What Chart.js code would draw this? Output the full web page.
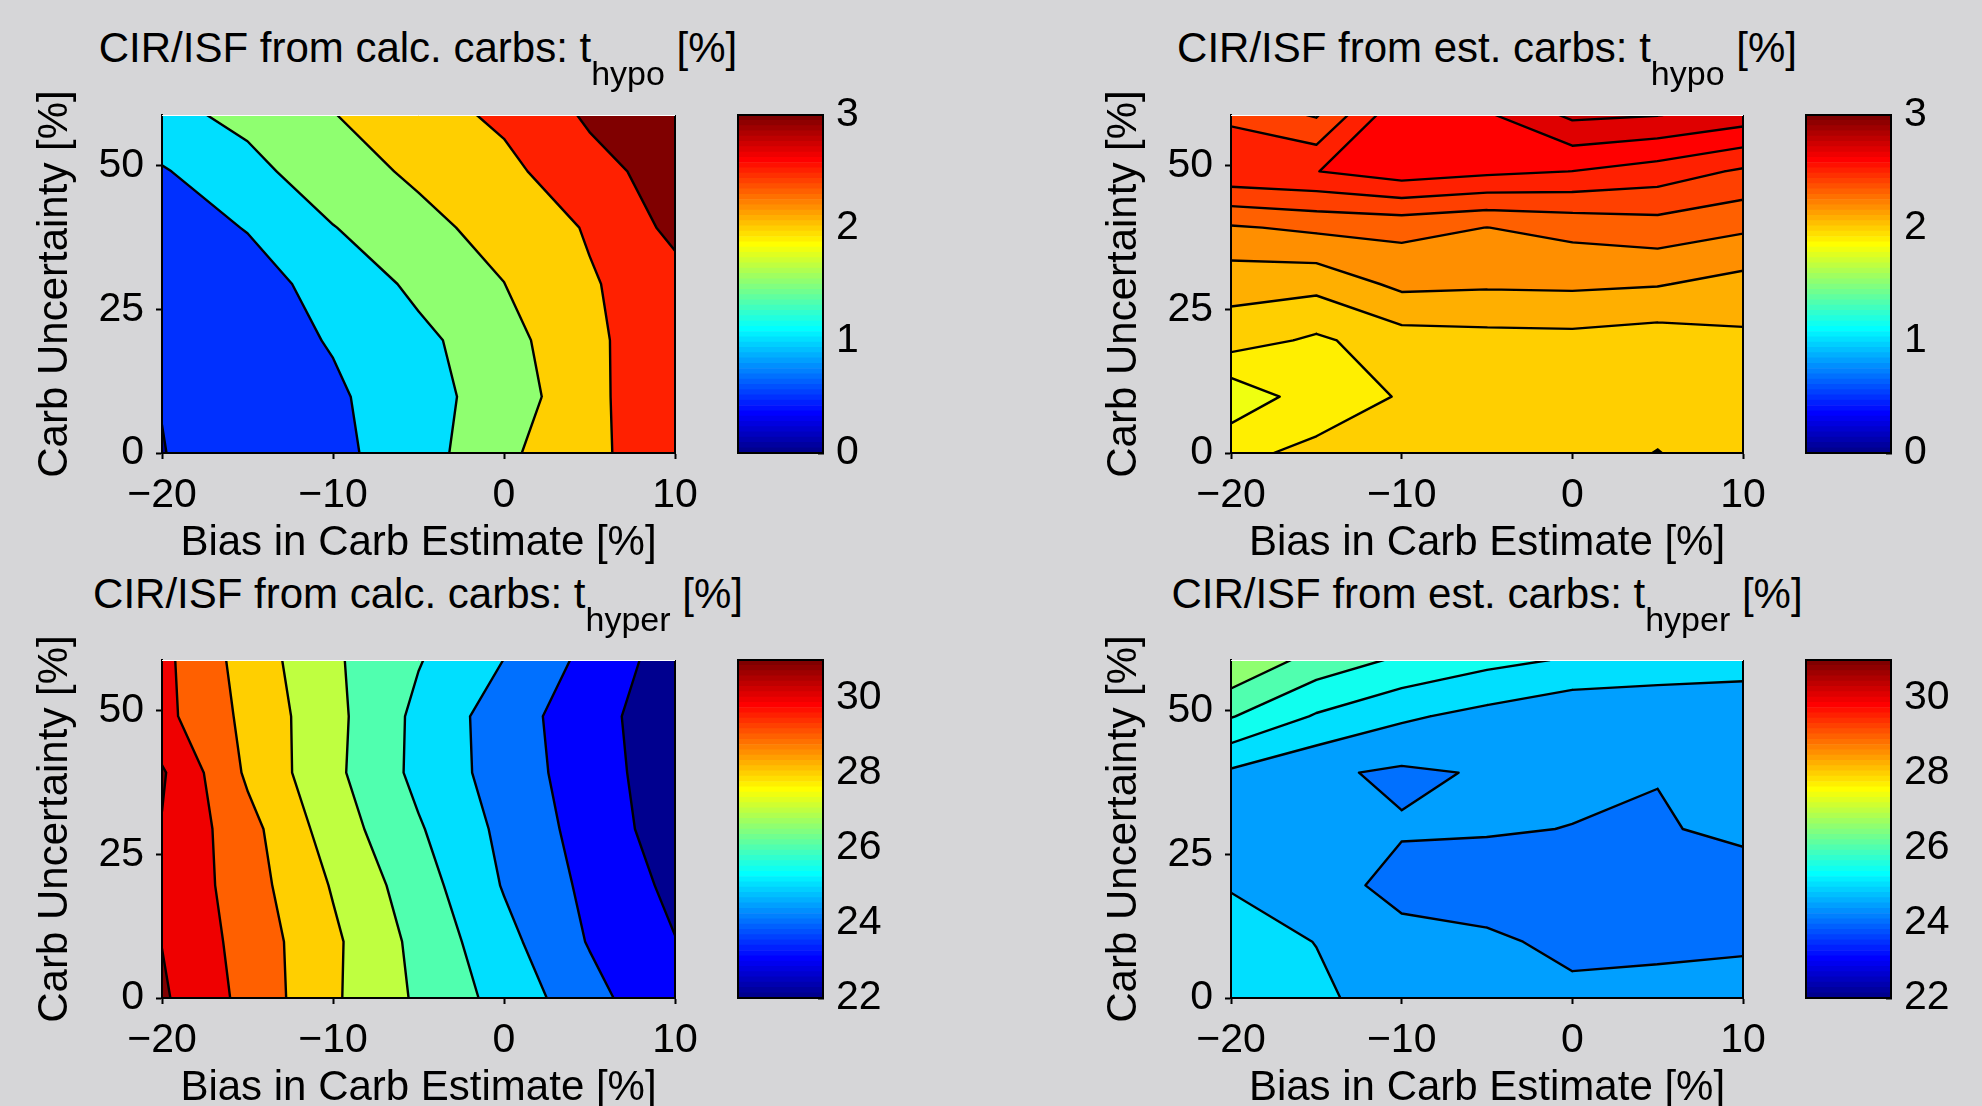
<!DOCTYPE html>
<html>
<head>
<meta charset="utf-8">
<title>CIR/ISF contour maps</title>
<script src="https://cdn.jsdelivr.net/npm/chart.js@4.4.1/dist/chart.umd.min.js"></script>
<style>
  html, body { margin: 0; padding: 0; background: #d6d6d8; overflow: hidden; }
  body { width: 1982px; height: 1106px; position: relative; font-family: "Liberation Sans", Arial, sans-serif; }
  canvas { position: absolute; }
  .title { position: absolute; width: 800px; text-align: center; font-size: 42px; line-height: 50px; color: #000; white-space: nowrap; }
  .title span { position: relative; top: 23px; font-size: 34px; }
</style>
</head>
<body>

<canvas id="hypoCalc" width="705" height="489" style="left:0; top:80px"></canvas>
<canvas id="hypoCalcBar" width="180" height="405" style="left:720px; top:80px"></canvas>
<canvas id="hypoEst" width="704" height="489" style="left:1069px; top:80px"></canvas>
<canvas id="hypoEstBar" width="180" height="405" style="left:1788px; top:80px"></canvas>
<canvas id="hyperCalc" width="705" height="489" style="left:0; top:625px"></canvas>
<canvas id="hyperCalcBar" width="180" height="405" style="left:720px; top:625px"></canvas>
<canvas id="hyperEst" width="704" height="489" style="left:1069px; top:625px"></canvas>
<canvas id="hyperEstBar" width="180" height="405" style="left:1788px; top:625px"></canvas>

<div class="title" style="left:18px; top:23px">CIR/ISF from calc. carbs: t<span>hypo</span> [%]</div>
<div class="title" style="left:1087px; top:23px">CIR/ISF from est. carbs: t<span>hypo</span> [%]</div>
<div class="title" style="left:18px; top:569px">CIR/ISF from calc. carbs: t<span>hyper</span> [%]</div>
<div class="title" style="left:1087px; top:569px">CIR/ISF from est. carbs: t<span>hyper</span> [%]</div>

<script>
// grid of the runs: bias in carb estimate (columns) x carb uncertainty (rows)
const biasX = [-20, -15, -10, -5, 0, 5, 10]
const uncertY = [0, 9.8, 19.6, 29.4, 39.2, 49, 58.8]

const xTicks = [-20, -10, 0, 10]
const yTicks = [0, 25, 50]

// t_hypo [%], rows from uncertainty 0 up to 58.8
const hypoCalc = [
  [0.49, 0.68, 0.877, 1.275, 1.90, 2.38, 2.83],
  [0.51, 0.71, 0.912, 1.336, 1.70, 2.379, 2.87],
  [0.58, 0.742, 1.04, 1.372, 1.82, 2.39, 2.85],
  [0.68, 0.856, 1.132, 1.62, 1.995, 2.45, 2.82],
  [0.83, 1.016, 1.48, 1.897, 2.131, 2.55, 3.125],
  [0.96, 1.324, 1.842, 2.063, 2.37, 2.841, 3.20],
  [1.33, 1.654, 1.985, 2.297, 2.595, 3.069, 3.45]
]
const hypoEst = [
  [1.981, 2.019, 2.02, 2.04, 2.03, 1.998, 2.04],
  [1.827, 1.955, 2.006, 2.05, 2.04, 2.03, 2.05],
  [2.046, 1.983, 2.054, 2.066, 2.07, 2.05, 2.08],
  [2.136, 2.13, 2.224, 2.214, 2.218, 2.207, 2.164],
  [2.289, 2.319, 2.328, 2.299, 2.329, 2.355, 2.316],
  [2.579, 2.598, 2.654, 2.622, 2.599, 2.555, 2.485],
  [2.48, 2.39, 2.686, 2.687, 2.821, 2.803, 2.755]
]
// t_hyper [%]
const hyperCalc = [
  [31.14, 29.71, 28.14, 26.85, 25.64, 24.36, 23.08],
  [30.98, 29.61, 28.18, 26.72, 25.30, 23.93, 23.03],
  [30.92, 29.44, 27.92, 26.45, 24.93, 23.77, 22.76],
  [30.95, 29.34, 27.52, 26.10, 24.76, 23.59, 22.48],
  [31.11, 28.84, 27.23, 25.74, 24.56, 23.48, 22.39],
  [30.29, 28.75, 27.28, 25.76, 24.50, 23.40, 22.34],
  [30.26, 28.58, 27.15, 26.06, 24.99, 23.71, 22.50]
]
const hyperEst = [
  [25.35, 25.09, 24.77, 24.62, 24.55, 24.65, 24.79],
  [25.20, 24.99, 24.64, 24.54, 24.445, 24.40, 24.40],
  [24.97, 24.69, 24.36, 24.38, 24.40, 24.35, 24.24],
  [24.80, 24.65, 24.54, 24.52, 24.495, 24.45, 24.62],
  [24.92, 24.58, 24.42, 24.54, 24.55, 24.52, 24.60],
  [26.03, 25.45, 25.08, 24.84, 24.60, 24.69, 24.67],
  [26.98, 26.30, 25.92, 25.64, 25.45, 25.25, 25.20]
]

// contour levels
const hypoCalcLevels = [0, 0.5, 1, 1.5, 2, 2.5, 3]
const hypoEstLevels = [1.8, 1.9, 2.0, 2.1, 2.2, 2.3, 2.4, 2.5, 2.6, 2.7, 2.8]
const hyperCalcLevels = [22, 23, 24, 25, 26, 27, 28, 29, 30, 31]
const hyperEstLevels = [24, 24.5, 25, 25.5, 26, 26.5]

// colour limits and colorbar ticks
const hypoClim = [0, 3]
const hyperClim = [22, 31]
const hypoBarTicks = [0, 1, 2, 3]
const hyperBarTicks = [22, 24, 26, 28, 30]


Chart.defaults.color = '#000'
Chart.defaults.font.family = 'Liberation Sans'

// matlab jet(64)
function jet(row) {
  const u = k => (k < 1 || k > 47) ? 0 : k <= 16 ? k / 16 : k <= 31 ? 1 : (48 - k) / 16
  const c = f => Math.round(f * 255)
  return `rgb(${c(u(row - 24))},${c(u(row - 8))},${c(u(row + 8))})`
}

function levelColor(level, clim) {
  let row = Math.floor((level - clim[0]) / (clim[1] - clim[0]) * 64) + 1
  row = Math.max(1, Math.min(64, row))
  return jet(row)
}

function gridCells(z) {
  const cells = []
  for (let j = 0; j < uncertY.length - 1; j++) {
    for (let i = 0; i < biasX.length - 1; i++) {
      cells.push([
        { x: biasX[i], y: uncertY[j], v: z[j][i] },
        { x: biasX[i + 1], y: uncertY[j], v: z[j][i + 1] },
        { x: biasX[i + 1], y: uncertY[j + 1], v: z[j + 1][i + 1] },
        { x: biasX[i], y: uncertY[j + 1], v: z[j + 1][i] }
      ])
    }
  }
  return cells
}

function cross(a, b, level) {
  const t = (level - a.v) / (b.v - a.v)
  return { x: a.x + t * (b.x - a.x), y: a.y + t * (b.y - a.y), v: level }
}

// part of a cell where value >= level
function clipAbove(poly, level) {
  const out = []
  poly.forEach((a, i) => {
    const b = poly[(i + 1) % poly.length]
    if (a.v >= level) out.push(a)
    if ((a.v >= level) !== (b.v >= level)) out.push(cross(a, b, level))
  })
  return out
}

function cellSegments(cell, level) {
  const pts = []
  cell.forEach((a, i) => {
    const b = cell[(i + 1) % 4]
    if ((a.v >= level) !== (b.v >= level)) pts.push(cross(a, b, level))
  })
  if (pts.length === 2) return [pts]
  if (pts.length === 4) {
    const mid = (cell[0].v + cell[1].v + cell[2].v + cell[3].v) / 4
    if ((mid >= level) === (cell[0].v >= level)) return [[pts[0], pts[1]], [pts[2], pts[3]]]
    return [[pts[3], pts[0]], [pts[1], pts[2]]]
  }
  return []
}

function contourPlugin(z, levels, clim) {
  const cells = gridCells(z)
  return {
    id: 'contour',
    beforeDatasetsDraw(chart) {
      const { ctx, chartArea: area, scales } = chart
      const px = p => scales.x.getPixelForValue(p.x)
      const py = p => scales.y.getPixelForValue(p.y)
      ctx.save()
      ctx.beginPath()
      ctx.rect(area.left, area.top, area.width, area.height)
      ctx.clip()
      ctx.fillStyle = levelColor(levels[0], clim)
      ctx.fillRect(area.left, area.top, area.width, area.height)
      for (let k = 1; k < levels.length; k++) {
        ctx.beginPath()
        cells.forEach(cell => {
          const poly = clipAbove(cell, levels[k])
          if (poly.length < 3) return
          poly.forEach((p, i) => i ? ctx.lineTo(px(p), py(p)) : ctx.moveTo(px(p), py(p)))
          ctx.closePath()
        })
        ctx.fillStyle = levelColor(levels[k], clim)
        ctx.fill()
      }
      ctx.beginPath()
      levels.forEach(level => {
        cells.forEach(cell => {
          cellSegments(cell, level).forEach(([a, b]) => {
            ctx.moveTo(px(a), py(a))
            ctx.lineTo(px(b), py(b))
          })
        })
      })
      ctx.lineWidth = 2.4
      ctx.lineCap = 'round'
      ctx.strokeStyle = '#000'
      ctx.stroke()
      ctx.restore()
    },
    afterDraw(chart) {
      const { ctx, chartArea: { left, right, top, bottom } } = chart
      ctx.save()
      ctx.lineWidth = 2
      ctx.strokeStyle = '#000'
      ctx.beginPath()
      ctx.moveTo(left, top)
      ctx.lineTo(left, bottom)
      ctx.lineTo(right, bottom)
      ctx.lineTo(right, top)
      ctx.stroke()
      ctx.lineWidth = 1
      ctx.strokeStyle = '#fff'
      ctx.beginPath()
      ctx.moveTo(left, top + 0.5)
      ctx.lineTo(right, top + 0.5)
      ctx.stroke()
      ctx.restore()
    }
  }
}

const minus = v => v < 0 ? '\u2212' + Math.abs(v) : String(v)

function contourChart(id, z, levels, clim) {
  const nodes = []
  uncertY.forEach((y, j) => biasX.forEach((x, i) => nodes.push({ x, y, v: z[j][i] })))
  return new Chart(document.getElementById(id), {
    type: 'scatter',
    data: { datasets: [{ data: nodes, pointRadius: 0 }] },
    options: {
      responsive: false,
      animation: false,
      devicePixelRatio: 1,
      events: [],
      layout: { padding: { top: 35, right: 30, left: 0, bottom: 0 } },
      plugins: { legend: { display: false }, tooltip: { enabled: false } },
      scales: {
        x: {
          type: 'linear',
          min: biasX[0],
          max: biasX[biasX.length - 1],
          afterBuildTicks: s => { s.ticks = xTicks.map(value => ({ value })) },
          afterFit: s => { s.height = 116; s.paddingLeft = 0; s.paddingRight = 0 },
          ticks: { font: { size: 41 }, padding: 12, autoSkip: false, maxRotation: 0, callback: minus },
          grid: { drawOnChartArea: false, tickLength: 6, tickWidth: 2, tickColor: '#000' },
          border: { color: '#000', width: 2 },
          title: { display: true, text: 'Bias in Carb Estimate [%]', font: { size: 42 }, padding: { top: 0, bottom: 0 } }
        },
        y: {
          type: 'linear',
          min: uncertY[0],
          max: uncertY[uncertY.length - 1],
          afterBuildTicks: s => { s.ticks = yTicks.map(value => ({ value })) },
          afterFit: s => { s.width = 162; s.paddingTop = 0; s.paddingBottom = 0 },
          ticks: { font: { size: 41 }, padding: 12, autoSkip: false },
          grid: { drawOnChartArea: false, tickLength: 6, tickWidth: 2, tickColor: '#000' },
          border: { color: '#000', width: 2 },
          title: { display: true, text: 'Carb Uncertainty [%]', font: { size: 42 }, padding: { top: 30, bottom: 0 } }
        }
      }
    },
    plugins: [contourPlugin(z, levels, clim)]
  })
}

const barFrame = {
  id: 'barFrame',
  afterDraw(chart) {
    const { ctx, chartArea: a } = chart
    ctx.save()
    ctx.lineWidth = 2
    ctx.strokeStyle = '#000'
    ctx.strokeRect(a.left, a.top, a.width, a.height)
    ctx.restore()
  }
}

function colorBar(id, clim, ticks) {
  const step = (clim[1] - clim[0]) / 64
  const bands = []
  for (let i = 0; i < 64; i++) {
    bands.push({
      data: [[clim[0] + i * step, clim[0] + (i + 1) * step]],
      backgroundColor: jet(i + 1),
      borderWidth: 0,
      grouped: false,
      barPercentage: 1,
      categoryPercentage: 1
    })
  }
  return new Chart(document.getElementById(id), {
    type: 'bar',
    data: { labels: [''], datasets: bands },
    options: {
      responsive: false,
      animation: false,
      devicePixelRatio: 1,
      events: [],
      layout: { padding: { top: 35, left: 18, right: 0, bottom: 32 } },
      plugins: { legend: { display: false }, tooltip: { enabled: false } },
      scales: {
        x: { display: false },
        y: {
          position: 'right',
          min: clim[0],
          max: clim[1],
          afterBuildTicks: s => { s.ticks = ticks.map(value => ({ value })) },
          afterFit: s => { s.width = 77; s.paddingTop = 0; s.paddingBottom = 0 },
          ticks: { font: { size: 41 }, padding: 18, autoSkip: false },
          grid: { drawOnChartArea: false, tickLength: -5, tickWidth: 2, tickColor: '#000' },
          border: { color: '#000', width: 2 }
        }
      }
    },
    plugins: [barFrame]
  })
}

contourChart('hypoCalc', hypoCalc, hypoCalcLevels, hypoClim)
contourChart('hypoEst', hypoEst, hypoEstLevels, hypoClim)
contourChart('hyperCalc', hyperCalc, hyperCalcLevels, hyperClim)
contourChart('hyperEst', hyperEst, hyperEstLevels, hyperClim)

colorBar('hypoCalcBar', hypoClim, hypoBarTicks)
colorBar('hypoEstBar', hypoClim, hypoBarTicks)
colorBar('hyperCalcBar', hyperClim, hyperBarTicks)
colorBar('hyperEstBar', hyperClim, hyperBarTicks)
</script>
</body>
</html>
